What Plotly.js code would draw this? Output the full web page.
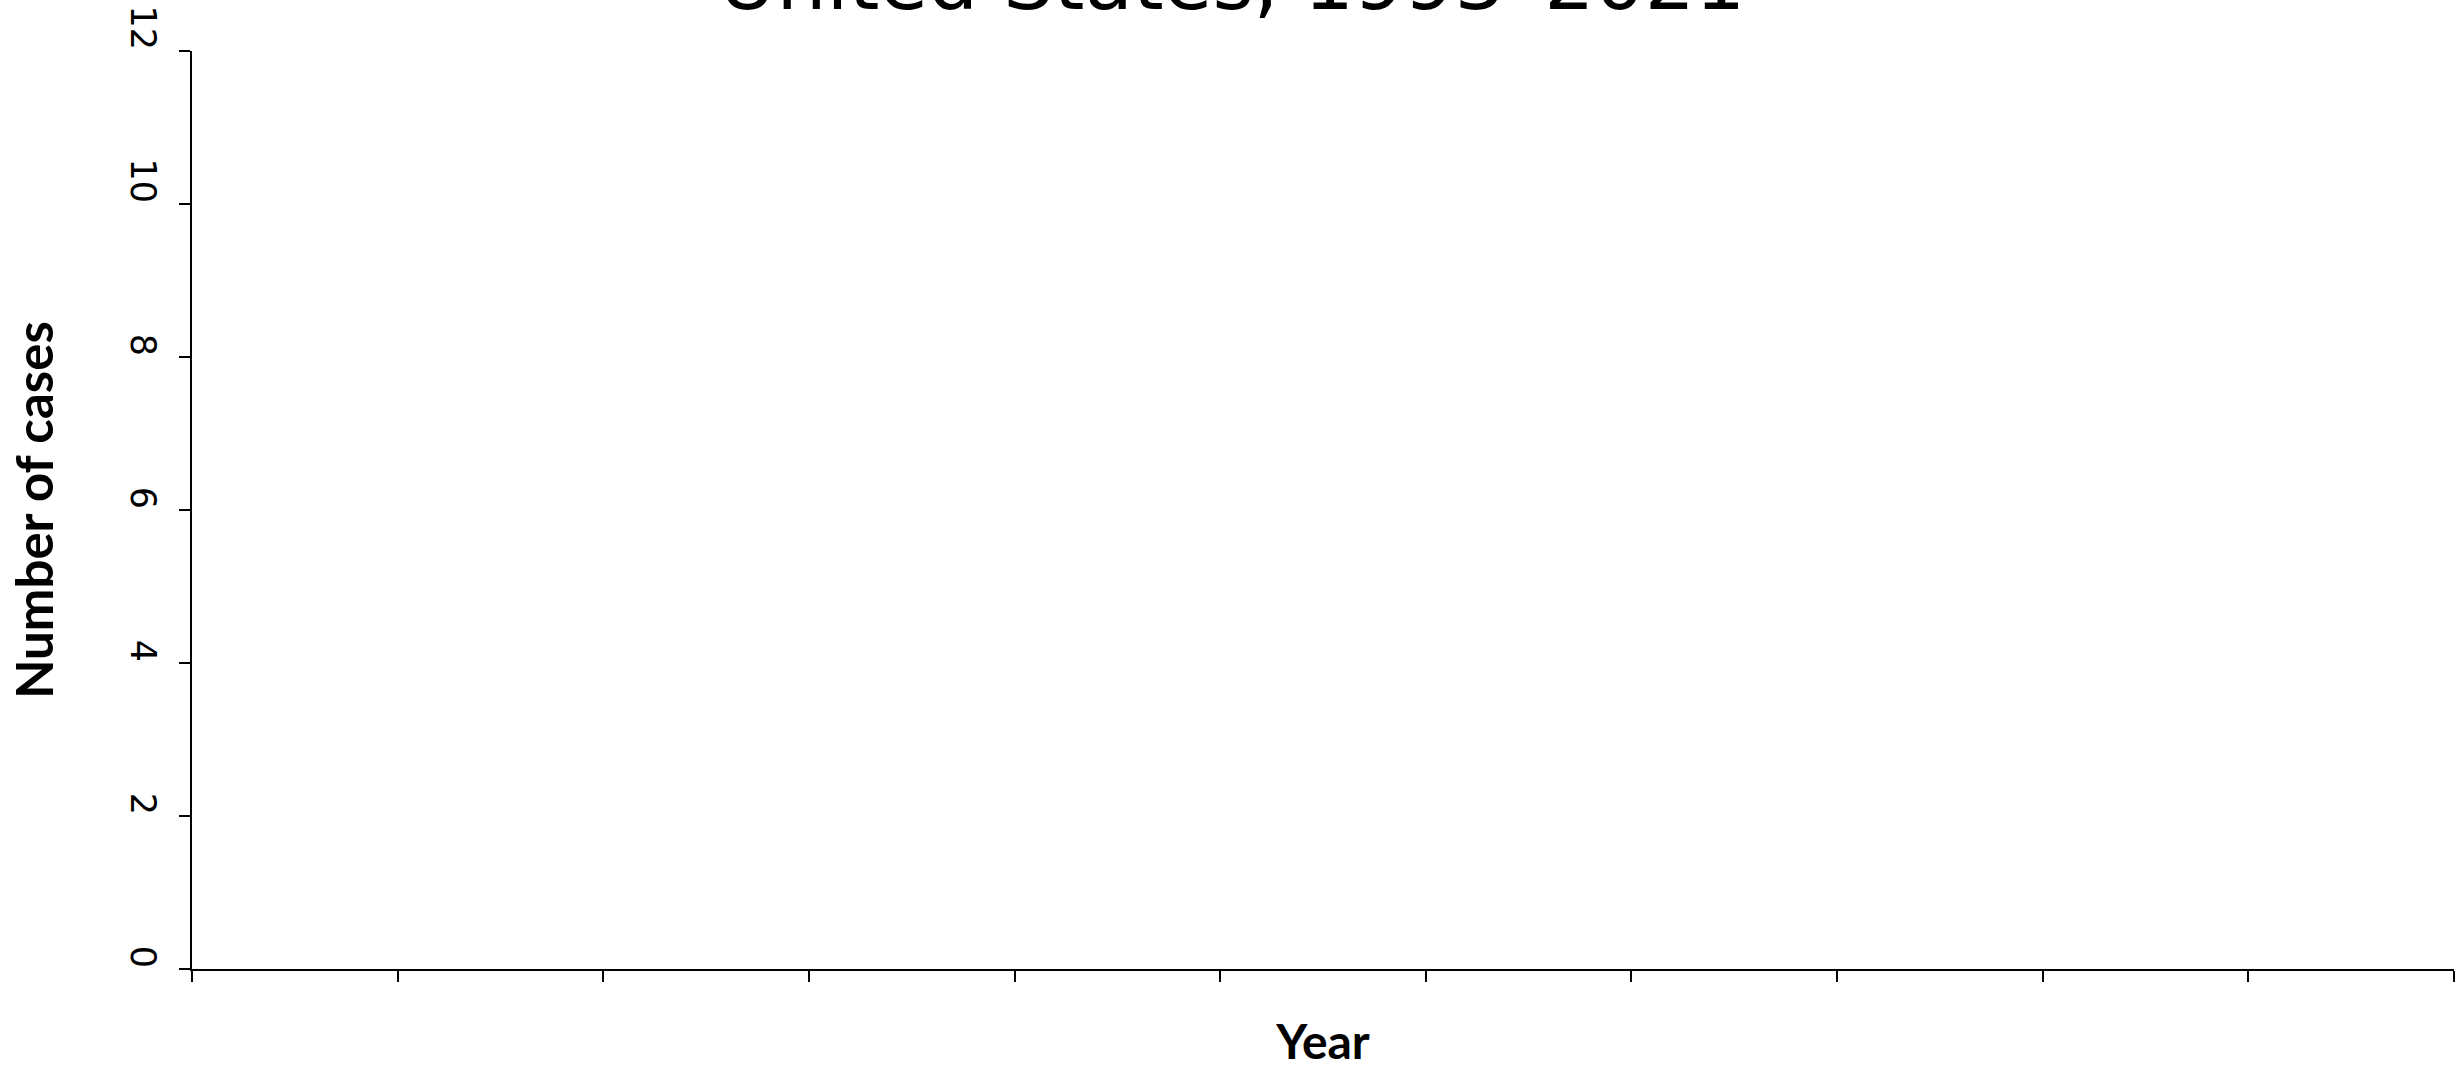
<!DOCTYPE html>
<html>
<head>
<meta charset="utf-8">
<script src="https://cdn.plot.ly/plotly-3.0.1.min.js"></script>
<style>
  html, body { margin: 0; padding: 0; background: #ffffff; }
  #chart { width: 2464px; height: 1069px; }
</style>
</head>
<body>
<div id="chart"></div>
<script>
// Chart data (the reference chart shows no plotted values)
const chartTitle = "United States, 1993\u20132021";
const xAxisTitle = "Year";
const yAxisTitle = "Number of cases";
const years = [];
const cases = [];
const xTickVals = [0, 1, 2, 3, 4, 5, 6, 7, 8, 9, 10, 11];
const yTickVals = [0, 2, 4, 6, 8, 10, 12];
const yTickText = ["0", "2", "4", "6", "8", "10", "12"];

// pad single-digit labels so each label ends at its tick when rotated
const yTickTextPadded = yTickText.map(t => (t.length < 2 ? "\u2007" + t : t));

const traces = [{
  type: "scatter",
  mode: "lines",
  x: years,
  y: cases,
  line: { color: "#000000", width: 2 },
  showlegend: false,
  hoverinfo: "skip"
}];

const layout = {
  width: 2464,
  height: 1069,
  paper_bgcolor: "#ffffff",
  plot_bgcolor: "#ffffff",
  margin: { l: 192, r: 10, t: 51, b: 100, pad: 0 },
  showlegend: false,
  title: {
    text: chartTitle,
    font: { family: "DejaVu Sans", size: 79, color: "#000000" },
    x: 0.5,
    xref: "container",
    xanchor: "center",
    y: 1,
    yref: "container",
    yanchor: "top",
    pad: { t: -46 }
  },
  xaxis: {
    range: [0, 11],
    tickmode: "array",
    tickvals: xTickVals,
    showticklabels: false,
    ticks: "outside",
    ticklen: 11,
    tickwidth: 2,
    tickcolor: "#000000",
    showline: true,
    linecolor: "#000000",
    linewidth: 2,
    showgrid: false,
    zeroline: false,
    title: {
      text: xAxisTitle,
      font: { family: "Lato", size: 48, color: "#000000", weight: "bold" },
      standoff: 65
    }
  },
  yaxis: {
    range: [0, 12],
    tickmode: "array",
    tickvals: yTickVals,
    ticktext: yTickTextPadded,
    tickangle: 90,
    tickfont: { family: "DejaVu Sans", size: 35, color: "#000000" },
    ticklabelshift: -18,
    ticklabelstandoff: 6,
    ticklabeloverflow: "allow",
    ticks: "outside",
    ticklen: 11,
    tickwidth: 2,
    tickcolor: "#000000",
    showline: true,
    linecolor: "#000000",
    linewidth: 2,
    showgrid: false,
    zeroline: false,
    title: {
      text: yAxisTitle,
      font: { family: "Lato", size: 51, color: "#000000", weight: "bold" },
      standoff: 53
    }
  }
};

Plotly.newPlot("chart", traces, layout, { staticPlot: true, displayModeBar: false });
</script>
</body>
</html>
